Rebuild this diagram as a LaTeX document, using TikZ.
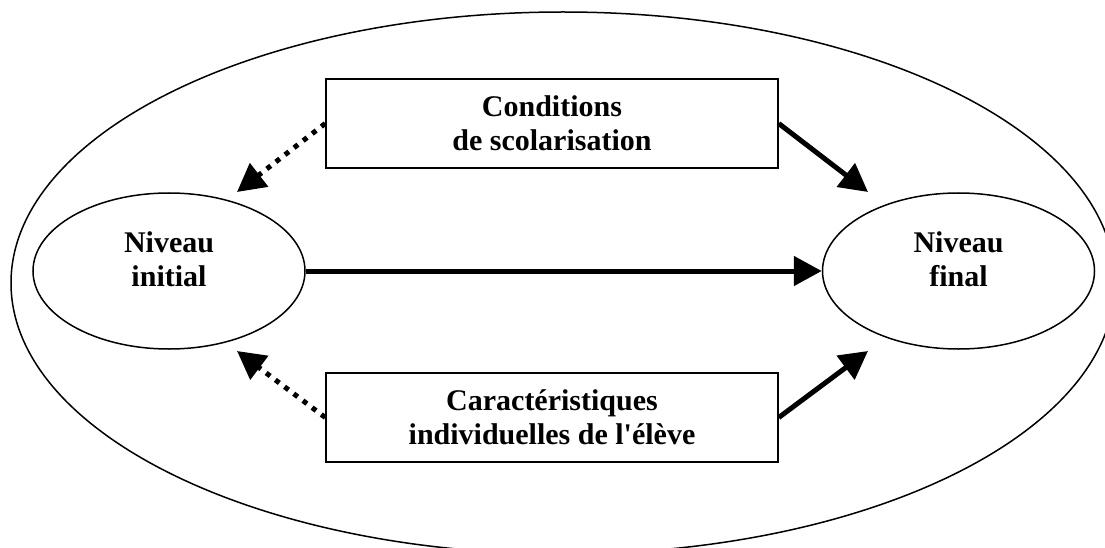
\documentclass[tikz,border=0pt]{standalone}
\usepackage{fontspec}
\setmainfont{Liberation Serif}
\usetikzlibrary{arrows.meta,shapes.geometric}
\begin{document}
\begin{tikzpicture}[x=1pt,y=-1pt,
  lbl/.style={font=\fontsize{30}{34}\selectfont\bfseries, align=center, inner sep=0pt},
  boxn/.style={draw, line width=1.5pt, minimum width=452pt, minimum height=89pt, inner sep=0pt, lbl},
  ell/.style={draw, ellipse, line width=1.5pt, minimum width=272pt, minimum height=156pt, inner sep=0pt},
  solidarr/.style={line width=5pt, -{Triangle[length=28pt,width=29pt]}},
  dotarr/.style={line width=5pt, dash pattern=on 5pt off 6.5pt, -{Triangle[length=28pt,width=29pt]}}
]
\useasboundingbox (0,0) rectangle (1105,548);
\clip (0,0) rectangle (1105,548);
\draw[line width=1.5pt] (563,283) ellipse [x radius=552pt, y radius=271pt];

\node[boxn] (cond) at (552,123.5) {Conditions\\de scolarisation};
\node[boxn] (cara) at (552,417.5) {Caractéristiques\\individuelles de l\textquotesingle élève};
\node[ell] (lini) at (169,271) {};
\node[lbl] (tini) at (169,259) {Niveau\\initial};
\node[ell] (lfin) at (958.5,271) {};
\node[lbl] (tfin) at (958.5,259) {Niveau\\final};

\coordinate (a1) at (237,192);
\coordinate (a2) at (868,192);
\coordinate (a3) at (237,351);
\coordinate (a4) at (868,351);

\draw[solidarr] (lini.east) -- (lfin.west);
\draw[dotarr] (cond.west) -- (a1);
\draw[solidarr] (cond.east) -- (a2);
\draw[dotarr] (cara.west) -- (a3);
\draw[solidarr] (cara.east) -- (a4);
\end{tikzpicture}
\end{document}
